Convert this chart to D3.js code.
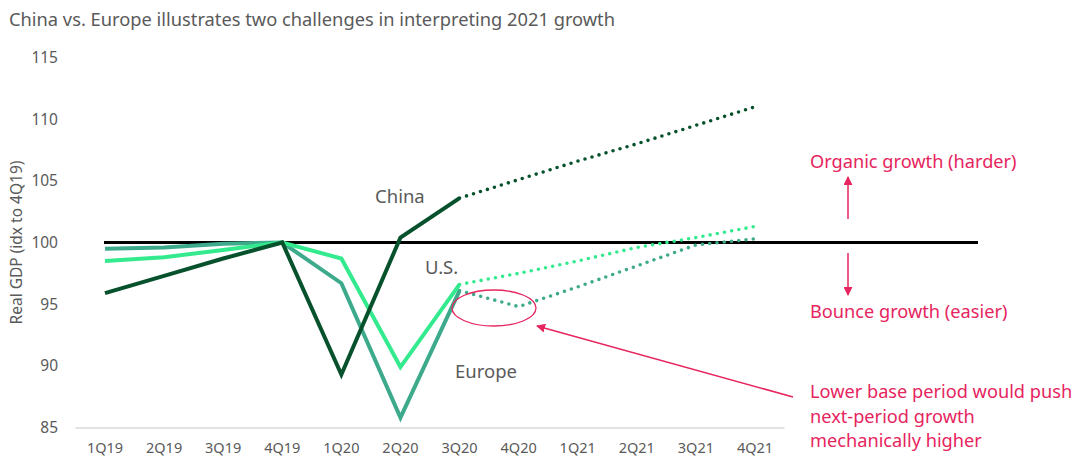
<!DOCTYPE html>
<html>
<head>
<meta charset="utf-8">
<script src="https://cdn.jsdelivr.net/npm/d3@7"></script>
<style>
  body { margin: 0; background: #fff; }
  text { font-family: "Noto Sans", sans-serif; }
</style>
</head>
<body>
<div id="chart"></div>
<script>
// quarters on the x axis
var quarters = ["1Q19","2Q19","3Q19","4Q19","1Q20","2Q20","3Q20","4Q20","1Q21","2Q21","3Q21","4Q21"];
var yTicks = [85, 90, 95, 100, 105, 110, 115];

// real GDP, indexed to 4Q19 (actuals then forecast)
var chinaActual  = [95.9, 97.3, 98.7, 100, 89.3, 100.4, 103.6];
var chinaFcst    = [103.6, 105.1, 106.6, 108.0, 109.5, 111.0];
var usActual     = [98.5, 98.8, 99.4, 100, 98.7, 89.9, 96.6];
var usFcst       = [96.6, 97.5, 98.5, 99.6, 100.4, 101.3];
var europeActual = [99.5, 99.6, 99.9, 100, 96.7, 85.8, 96.1];
var europeFcst   = [96.1, 94.8, 96.4, 98.1, 99.8, 100.3];

var baseline = 100;

var width = 1074, height = 458;
var colors = { china: "#07522d", us: "#33ea8e", europe: "#3daa8c" };
var pink = "#e6245e";
var gray = "#5a5a5a";

var svg = d3.select("#chart").append("svg")
  .attr("width", width)
  .attr("height", height);

var scaleX = d3.scalePoint()
  .domain(quarters)
  .range([105, 755]);

var scaleY = d3.scaleLinear()
  .domain([85, 115])
  .range([427.5, 57.5]);

// title
svg.append("text")
  .attr("x", 9)
  .attr("y", 26)
  .attr("fill", gray)
  .style("font-size", "18.3px")
  .text("China vs. Europe illustrates two challenges in interpreting 2021 growth");

// y axis labels
svg.append("g").selectAll("text")
  .data(yTicks)
  .enter().append("text")
  .attr("x", 58)
  .attr("y", d => scaleY(d) + 5.5)
  .attr("text-anchor", "end")
  .attr("fill", gray)
  .style("font-size", "15.5px")
  .text(d => d);

svg.append("text")
  .attr("transform", "translate(22," + scaleY(100) + ") rotate(-90)")
  .attr("text-anchor", "middle")
  .attr("fill", gray)
  .style("font-size", "15.5px")
  .text("Real GDP (idx to 4Q19)");

// bottom axis line + labels
var step = scaleX.step();
svg.append("line")
  .attr("x1", scaleX(quarters[0]) - step / 2)
  .attr("x2", scaleX(quarters[quarters.length - 1]) + step / 2)
  .attr("y1", scaleY(85) + 0.5)
  .attr("y2", scaleY(85) + 0.5)
  .attr("stroke", "#d9d9d9")
  .attr("stroke-width", 1.5);

svg.append("g").selectAll("text")
  .data(quarters)
  .enter().append("text")
  .attr("x", d => scaleX(d))
  .attr("y", 453)
  .attr("text-anchor", "middle")
  .attr("fill", gray)
  .style("font-size", "14.5px")
  .text(d => d);

// baseline at 100
svg.append("line")
  .attr("x1", 104)
  .attr("x2", 978)
  .attr("y1", scaleY(baseline))
  .attr("y2", scaleY(baseline))
  .attr("stroke", "#000")
  .attr("stroke-width", 3);

var line = d3.line()
  .x(d => scaleX(d.q))
  .y(d => scaleY(d.v));

function series(vals, offset) {
  return vals.map((v, i) => ({ q: quarters[i + offset], v: v }));
}

var chartArea = svg.append("g");

// solid lines (actuals)
[["europe", europeActual], ["us", usActual], ["china", chinaActual]].forEach(function (s) {
  chartArea.append("path")
    .datum(series(s[1], 0))
    .attr("d", line)
    .attr("fill", "none")
    .attr("stroke", colors[s[0]])
    .attr("stroke-width", 4)
    .attr("stroke-linejoin", "miter");
});

// dotted lines (forecast)
[["europe", europeFcst], ["us", usFcst], ["china", chinaFcst]].forEach(function (s) {
  chartArea.append("path")
    .datum(series(s[1], 6))
    .attr("d", line)
    .attr("fill", "none")
    .attr("stroke", colors[s[0]])
    .attr("stroke-width", 3.6)
    .attr("stroke-linecap", "round")
    .attr("stroke-dasharray", "0 7.3");
});

// series labels
var labels = [
  { t: "China", x: 375, y: 203 },
  { t: "U.S.", x: 425, y: 274 },
  { t: "Europe", x: 455, y: 378 }
];
svg.append("g").selectAll("text")
  .data(labels)
  .enter().append("text")
  .attr("x", d => d.x)
  .attr("y", d => d.y)
  .attr("fill", gray)
  .style("font-size", "18.5px")
  .text(d => d.t);

// annotations
var defs = svg.append("defs");
defs.append("marker")
  .attr("id", "head")
  .attr("viewBox", "0 0 10 10")
  .attr("refX", 9)
  .attr("refY", 5)
  .attr("markerWidth", 6)
  .attr("markerHeight", 6)
  .attr("markerUnits", "strokeWidth")
  .attr("orient", "auto")
  .append("path")
  .attr("d", "M0,0 L10,5 L0,10 Z")
  .attr("fill", pink);

var notes = svg.append("g").attr("fill", pink).style("font-size", "18.2px");
notes.append("text").attr("x", 810).attr("y", 168).text("Organic growth (harder)");
notes.append("text").attr("x", 810).attr("y", 318).text("Bounce growth (easier)");
["Lower base period would push", "next-period growth", "mechanically higher"].forEach(function (t, i) {
  notes.append("text").attr("x", 810).attr("y", 398 + i * 24.5).text(t);
});

svg.append("line")
  .attr("x1", 848).attr("y1", 219)
  .attr("x2", 848).attr("y2", 177)
  .attr("stroke", pink).attr("stroke-width", 1.5)
  .attr("marker-end", "url(#head)");

svg.append("line")
  .attr("x1", 848).attr("y1", 253)
  .attr("x2", 848).attr("y2", 295)
  .attr("stroke", pink).attr("stroke-width", 1.5)
  .attr("marker-end", "url(#head)");

svg.append("ellipse")
  .attr("cx", 494).attr("cy", 308)
  .attr("rx", 42).attr("ry", 18)
  .attr("fill", "none")
  .attr("stroke", pink)
  .attr("stroke-width", 1.3);

svg.append("line")
  .attr("x1", 793).attr("y1", 397)
  .attr("x2", 537).attr("y2", 326)
  .attr("stroke", pink).attr("stroke-width", 1.5)
  .attr("marker-end", "url(#head)");
</script>
</body>
</html>
